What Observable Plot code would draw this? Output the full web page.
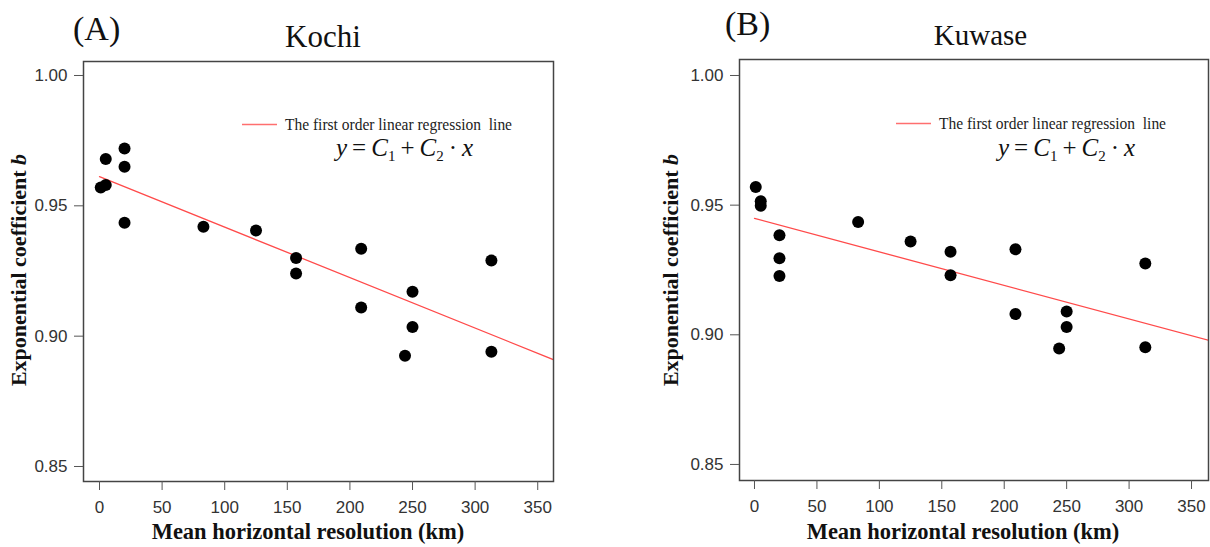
<!DOCTYPE html>
<html><head><meta charset="utf-8">
<script src="https://cdn.jsdelivr.net/npm/d3@7"></script>
<script src="https://cdn.jsdelivr.net/npm/@observablehq/plot@0.6"></script>
<style>
body{margin:0;background:#fff}
#wrap{position:relative;width:1210px;height:547px;background:#fff}
.panel{position:absolute;top:0}
</style>
</head><body>
<div id="wrap"><div id="a" class="panel" style="left:0"></div><div id="b" class="panel" style="left:605px"></div></div>
<script>
// ---- data ----
const resolutionKm = [1, 5, 5, 20, 20, 20, 83, 125, 157, 157, 209, 209, 250, 250, 244, 313, 313];
const kochiB  = [0.957, 0.958, 0.968, 0.972, 0.965, 0.9435, 0.942, 0.9405, 0.930, 0.924, 0.9335, 0.911, 0.917, 0.9035, 0.8925, 0.929, 0.894];
const kuwaseB = [0.957, 0.9515, 0.9498, 0.9384, 0.9295, 0.9227, 0.9435, 0.936, 0.932, 0.923, 0.933, 0.908, 0.909, 0.903, 0.8947, 0.9275, 0.8952];
const lineX = [0, 365];
const kochiLine  = [0.9612, 0.8905];
const kuwaseLine = [0.9449, 0.8977];
const xTicks = [0, 50, 100, 150, 200, 250, 300, 350];
const yTicks = [0.85, 0.90, 0.95, 1.00];
const panelTags = ["(A)", "(B)"];
const stations = ["Kochi", "Kuwase"];
const xLabel = "Mean horizontal resolution (km)";
const yLabel = "Exponential coefficient ";
const yLabelItalic = "b";
const legendText = "The first order linear regression\u00a0 line";

const serif = "'Liberation Serif','Times New Roman',serif";
const sans = "'Liberation Sans',Arial,sans-serif";

function panel(el, o) {
  const pts = resolutionKm.map((x, i) => ({x, b: o.b[i]}));
  const ln = lineX.map((x, i) => ({x, b: o.line[i]}));
  const svg = Plot.plot({
    width: 605, height: 547,
    marginLeft: o.ml, marginRight: o.mr, marginTop: o.mt, marginBottom: o.mb,
    style: {fontFamily: sans, fontSize: "17px", background: "white", color: "#333", overflow: "visible"},
    x: {domain: o.xd},
    y: {domain: o.yd},
    marks: [
      Plot.line(ln, {x: "x", y: "b", stroke: "#ff4a4a", strokeWidth: 1.3, clip: true}),
      Plot.dot(pts, {x: "x", y: "b", r: 6, fill: "black", stroke: "none"}),
      Plot.frame({stroke: "#444", strokeWidth: 1.5}),
      Plot.axisX({ticks: xTicks, tickSize: 9, tickPadding: 10, fontSize: 17, label: null, stroke: "#555"}),
      Plot.axisY({ticks: yTicks, tickFormat: ".2f", tickSize: 9, tickPadding: 7, fontSize: 17, label: null, stroke: "#555"})
    ]
  });
  const s = d3.select(svg);
  // panel tag & title
  s.append("text").attr("x", o.tagX).attr("y", o.tagY).attr("text-anchor", "start").attr("font-family", serif)
    .attr("font-size", 34).attr("fill", "#111").text(o.tag);
  s.append("text").attr("x", o.titleX).attr("y", o.titleY).attr("text-anchor", "middle").attr("font-family", serif)
    .attr("font-size", o.titleSize).attr("fill", "#111").text(o.title);
  // y label
  const yl = s.append("text").attr("transform", `translate(${o.ylX},270) rotate(-90)`).attr("text-anchor", "middle")
    .attr("font-family", serif).attr("font-size", 22).attr("font-weight", "bold").attr("fill", "#111");
  yl.append("tspan").text(yLabel);
  yl.append("tspan").attr("font-style", "italic").text(yLabelItalic);
  // x label
  s.append("text").attr("x", o.xlX).attr("y", 539).attr("text-anchor", "middle").attr("font-family", serif)
    .attr("font-size", 22.5).attr("font-weight", "bold").attr("fill", "#111").text(xLabel);
  // legend
  s.append("line").attr("x1", o.legX).attr("x2", o.legX + 35).attr("y1", o.legY).attr("y2", o.legY)
    .attr("stroke", "#ff6f6f").attr("stroke-width", 1.4);
  s.append("text").attr("x", o.legX + 43).attr("y", o.legY + 5.5).attr("text-anchor", "start").attr("font-family", serif)
    .attr("font-size", 17).attr("fill", "#222").attr("textLength", 227).attr("lengthAdjust", "spacingAndGlyphs").text(legendText);
  // equation
  const eq = s.append("text").attr("x", o.eqX).attr("y", 156).attr("text-anchor", "start").attr("font-family", serif)
    .attr("font-size", 25).attr("fill", "#111");
  eq.append("tspan").attr("font-style", "italic").text("y");
  eq.append("tspan").text("\u2009=\u2009");
  eq.append("tspan").attr("font-style", "italic").text("C");
  eq.append("tspan").attr("font-size", 15).attr("dy", 5).text("1");
  eq.append("tspan").attr("dy", -5).text("\u2009+\u2009");
  eq.append("tspan").attr("font-style", "italic").text("C");
  eq.append("tspan").attr("font-size", 15).attr("dy", 5).text("2");
  eq.append("tspan").attr("dy", -5).text("\u2009\u00b7\u2009");
  eq.append("tspan").attr("font-style", "italic").text("x");
  el.appendChild(svg);
}

panel(document.getElementById("a"), {
  b: kochiB, line: kochiLine,
  ml: 83, mr: 52, mt: 61, mb: 66,
  xd: [-12.78, 362.6], yd: [0.84424, 1.00537],
  tag: panelTags[0], tagX: 73, tagY: 40,
  title: stations[0], titleX: 323, titleY: 47, titleSize: 31,
  ylX: 26, xlX: 308,
  legX: 242, legY: 124.5, eqX: 336
});
panel(document.getElementById("b"), {
  b: kuwaseB, line: kuwaseLine,
  ml: 134, mr: 2, mt: 59, mb: 67,
  xd: [-12.01, 363.6], yd: [0.84381, 1.00617],
  tag: panelTags[1], tagX: 120, tagY: 35,
  title: stations[1], titleX: 375.5, titleY: 45, titleSize: 29,
  ylX: 73, xlX: 358,
  legX: 291, legY: 123.5, eqX: 393
});
</script>
</body></html>
